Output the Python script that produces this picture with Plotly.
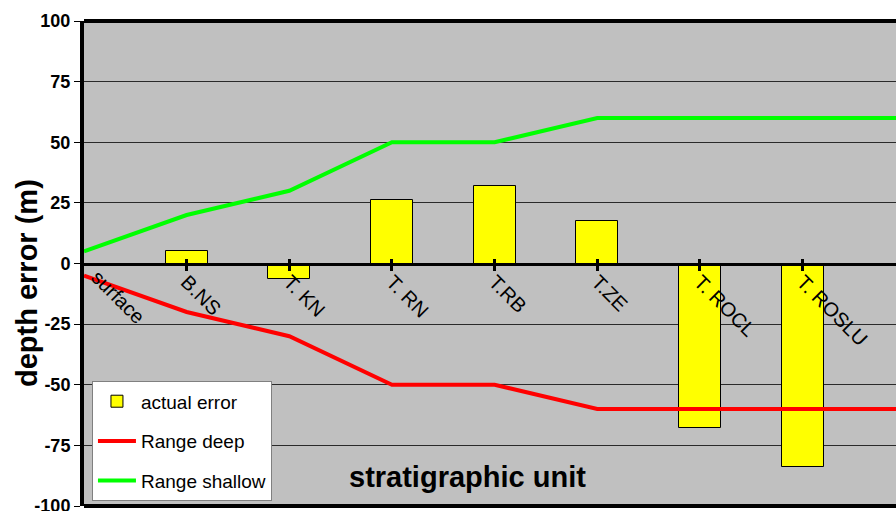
import plotly.graph_objects as go

categories = ["surface", "B.NS", "T. KN", "T. RN", "T.RB", "T.ZE", "T. ROCL", "T. ROSLU", ""]
actual_error = [None, 5, -6.5, 26, 32, 17.5, -68, -84, None]
range_deep = [-5, -20, -30, -50, -50, -60, -60, -60, -60]
range_shallow = [5, 20, 30, 50, 50, 60, 60, 60, 60]
y_ticks = [-100, -75, -50, -25, 0, 25, 50, 75, 100]

pos = list(range(len(categories)))
FONT = "Arial, Liberation Sans, sans-serif"

fig = go.Figure()
fig.add_trace(go.Bar(
    x=pos, y=actual_error, name="actual error", width=0.41,
    marker=dict(color="#FFFF00", line=dict(color="black", width=1)),
    legendgroup="a"))
fig.add_trace(go.Scatter(
    x=pos, y=range_deep, name="Range deep", mode="lines",
    line=dict(color="#FF0000", width=4), legendgroup="b"))
fig.add_trace(go.Scatter(
    x=pos, y=range_shallow, name="Range shallow", mode="lines",
    line=dict(color="#00FF00", width=4), legendgroup="c"))
# invisible helper trace to render the inward tick marks axis
fig.add_trace(go.Scatter(x=pos, y=[None]*len(pos), xaxis="x2", showlegend=False,
                         hoverinfo="skip", mode="lines"))

xr = [0, 7.91]
fig.update_layout(
    width=896, height=511,
    margin=dict(l=84, r=0, t=21, b=5, autoexpand=False),
    paper_bgcolor="white", plot_bgcolor="#C0C0C0",
    font=dict(family=FONT, color="black"),
    showlegend=True,
    legend=dict(x=0.0098, y=0.257, xanchor="left", yanchor="top",
                bgcolor="white", bordercolor="#808080", borderwidth=1,
                font=dict(size=19, family=FONT), tracegroupgap=12,
                itemwidth=38),
    xaxis=dict(range=xr, anchor="free", position=0.5, automargin=False,
               tickmode="array", tickvals=pos[1:], ticktext=categories[1:],
               tickangle=45, tickfont=dict(size=20, family=FONT),
               ticks="outside", ticklen=5, tickwidth=3, tickcolor="black",
               ticklabelstandoff=-8,
               showline=True, linecolor="black", linewidth=3,
               showgrid=False, zeroline=False),
    xaxis2=dict(range=xr, overlaying="x", anchor="free", position=0.5,
                automargin=False,
                tickmode="array", tickvals=pos[1:], showticklabels=False,
                ticks="inside", ticklen=5, tickwidth=3, tickcolor="black",
                showline=False, showgrid=False, zeroline=False),
    yaxis=dict(range=[-100, 100], tickmode="array", tickvals=y_ticks,
               ticktext=[str(v) for v in y_ticks], automargin=False,
               tickfont=dict(size=18, family=FONT, weight="bold"),
               ticklabeloverflow="allow",
               ticks="outside", ticklen=6, tickcolor="black", tickwidth=1,
               showline=True, linecolor="black", linewidth=4,
               showgrid=True, gridcolor="#2a2a2a", gridwidth=1,
               zeroline=False),
    bargap=0,
    shapes=[
        dict(type="line", xref="paper", yref="paper", x0=0, x1=1.02, y0=1, y1=1,
             line=dict(color="black", width=4)),
        dict(type="line", xref="paper", yref="paper", x0=0, x1=1.02, y0=0, y1=0,
             line=dict(color="black", width=4)),
    ],
    annotations=[
        dict(text="depth error (m)", xref="paper", yref="paper",
             x=-0.070, y=0.46, textangle=-90, showarrow=False,
             xanchor="center", yanchor="middle",
             font=dict(size=29, family=FONT, weight="bold")),
        dict(text="stratigraphic unit", xref="paper", yref="paper",
             x=0.472, y=0.06, showarrow=False,
             xanchor="center", yanchor="middle",
             font=dict(size=29, family=FONT, weight="bold")),
    ],
)

# label for the first category at the left edge
fig.add_annotation(text=categories[0], x=0, y=0, xref="x", yref="y",
                   showarrow=False, textangle=45, xanchor="left", yanchor="top",
                   font=dict(size=20, family=FONT))

fig.write_html("out.html", post_script="document.body.style.margin='0';",
               config={"displayModeBar": False})
